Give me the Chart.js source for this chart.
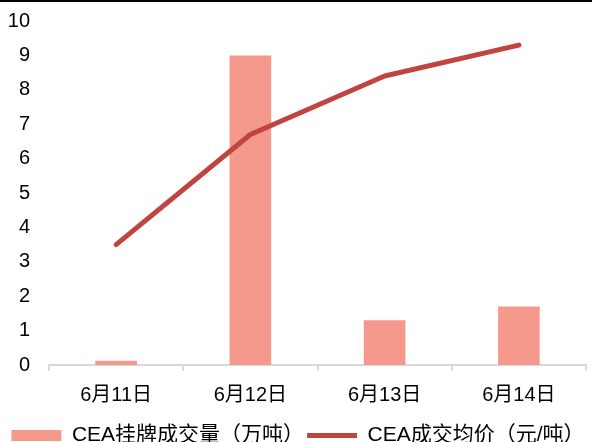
<!DOCTYPE html>
<html>
<head>
<meta charset="utf-8">
<script src="https://cdn.jsdelivr.net/npm/chart.js@4"></script>
<style>
    html, body { margin: 0; padding: 0; background: #fff; }
    .wrap { width: 592px; height: 440px; border-top: 2px solid #000; overflow: hidden; }
</style>
</head>
<body>
<div class="wrap"><canvas id="ceaChart" width="592" height="454"></canvas></div>
<script>
const dates = ['6月11日', '6月12日', '6月13日', '6月14日'];
const volume = [0.12, 9.0, 1.3, 1.7];      // 万吨
const avgPrice = [3.5, 6.7, 8.4, 9.3];     // 元/吨
const yTicks = [0, 1, 2, 3, 4, 5, 6, 7, 8, 9, 10];

const fontFamily = '"Liberation Sans", Arial, "Noto Sans CJK SC", sans-serif';
const barColor = '#F4998B';
const lineColor = '#C0443F';

new Chart(document.getElementById('ceaChart'), {
    type: 'bar',
    data: {
        labels: dates,
        datasets: [{
            label: 'CEA挂牌成交量（万吨）',
            data: volume,
            backgroundColor: barColor,
            borderWidth: 0,
            barPercentage: 1,
            categoryPercentage: 0.31,
            pointStyle: 'rect',
            order: 1,
        }, {
            type: 'line',
            label: 'CEA成交均价（元/吨）',
            data: avgPrice,
            borderColor: lineColor,
            backgroundColor: lineColor,
            borderWidth: 5,
            tension: 0,
            pointRadius: 0,
            pointStyle: 'line',
            borderCapStyle: 'round',
            borderJoinStyle: 'round',
            order: 0,
        }],
    },
    options: {
        responsive: false,
        animation: false,
        layout: { padding: { left: 4, right: 0, top: 19, bottom: 0 } },
        plugins: {
            tooltip: { enabled: false },
            legend: {
                position: 'bottom',
                labels: {
                    usePointStyle: true,
                    pointStyleWidth: 50,
                    boxHeight: 11,
                    padding: 3,
                    color: '#000',
                    font: { family: fontFamily, size: 21 },
                    sort: (a, b) => a.datasetIndex - b.datasetIndex,
                },
            },
        },
        scales: {
            x: {
                afterFit: axis => {
                    axis.height += 3;
                    axis.paddingRight = 6;
                },
                grid: {
                    drawOnChartArea: false,
                    drawTicks: true,
                    tickLength: 6,
                    color: '#D9D9D9',
                    lineWidth: 2,
                },
                border: { color: '#D9D9D9', width: 2 },
                ticks: {
                    color: '#000',
                    padding: 12,
                    font: { family: fontFamily, size: 20 },
                },
            },
            y: {
                min: 0,
                max: 10,
                afterBuildTicks: axis => { axis.ticks = yTicks.map(v => ({ value: v })); },
                afterFit: axis => {
                    axis.width = 45;
                    axis.paddingTop = 0;
                    axis.paddingBottom = 0;
                },
                grid: { display: false, drawTicks: false },
                border: { display: false },
                ticks: {
                    color: '#000',
                    padding: 19,
                    font: { family: fontFamily, size: 20 },
                },
            },
        },
    },
});
</script>
</body>
</html>
